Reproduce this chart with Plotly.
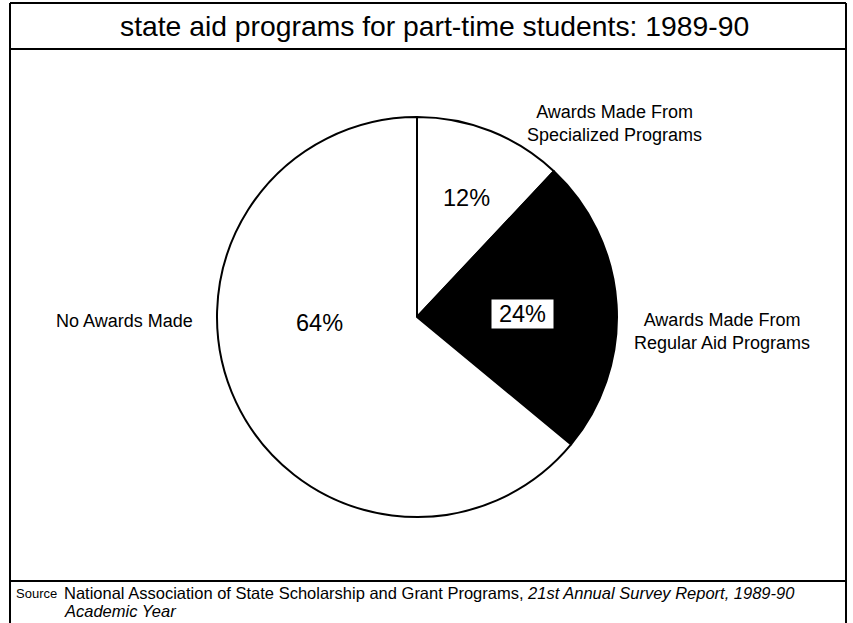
import plotly.graph_objects as go

# Share of part-time students by type of state aid award, 1989-90
categories = ["Awards Made From<br>Specialized Programs",
              "Awards Made From<br>Regular Aid Programs",
              "No Awards Made"]
shares = [12, 24, 64]
slice_colors = ["white", "black", "white"]

title_text = "state aid programs for part-time students: 1989-90"
source_label = "Source"
source_lines = ["National Association of State Scholarship and Grant Programs, "
                "<i>21st Annual Survey Report, 1989-90</i>",
                "<i>Academic Year</i>"]

W, H = 853, 623
FONT = "Liberation Sans, Arial, Helvetica, sans-serif"


def px(x):
    return x / W


def py(y):
    return 1 - y / H


fig = go.Figure()
fig.add_trace(go.Pie(
    labels=categories,
    values=shares,
    sort=False,
    direction="clockwise",
    rotation=0,
    marker=dict(colors=slice_colors, line=dict(color="black", width=2)),
    textinfo="none",
    hoverinfo="label+percent",
    showlegend=False,
    domain=dict(x=[px(217), px(617)], y=[py(517), py(117)]),
))

label_font = dict(size=18, color="black", family=FONT)
pct_font = dict(size=23.5, color="black", family=FONT)

annotations = [
    # title
    dict(x=px(434), y=py(26), text=title_text, showarrow=False,
         font=dict(size=28.3, color="black", family=FONT),
         xanchor="center", yanchor="middle"),
    # outside category labels
    dict(x=px(614), y=py(124), text=categories[0], showarrow=False,
         font=label_font, align="center", xanchor="center", yanchor="middle"),
    dict(x=px(722), y=py(331), text=categories[1], showarrow=False,
         font=label_font, align="center", xanchor="center", yanchor="middle"),
    dict(x=px(124), y=py(321), text=categories[2], showarrow=False,
         font=label_font, align="center", xanchor="center", yanchor="middle"),
    # percentage labels
    dict(x=px(467), y=py(198), text=f"{shares[0]}%", showarrow=False,
         font=pct_font, xanchor="center", yanchor="middle"),
    dict(x=px(522), y=py(314), text=f"{shares[1]}%", showarrow=False,
         font=pct_font, bgcolor="white", borderpad=0, width=61, height=28,
         xanchor="center", yanchor="middle"),
    dict(x=px(319), y=py(323), text=f"{shares[2]}%", showarrow=False,
         font=pct_font, xanchor="center", yanchor="middle"),
    # source note
    dict(x=px(14), y=py(593), text=source_label, showarrow=False,
         font=dict(size=13, color="black", family=FONT),
         xanchor="left", yanchor="middle"),
    dict(x=px(62), y=py(593), text=source_lines[0], showarrow=False,
         font=dict(size=16.5, color="black", family=FONT), align="left",
         xanchor="left", yanchor="middle"),
    dict(x=px(62), y=py(611), text=source_lines[1], showarrow=False,
         font=dict(size=16.5, color="black", family=FONT), align="left",
         xanchor="left", yanchor="middle"),
]

line = dict(color="black", width=2)
shapes = [
    # outer frame
    dict(type="line", xref="paper", yref="paper",
         x0=px(10), x1=px(10), y0=py(3), y1=py(623), line=line),
    dict(type="line", xref="paper", yref="paper",
         x0=px(846), x1=px(846), y0=py(3), y1=py(623), line=line),
    dict(type="line", xref="paper", yref="paper",
         x0=px(10), x1=px(846), y0=py(3), y1=py(3), line=line),
    # title box bottom
    dict(type="line", xref="paper", yref="paper",
         x0=px(10), x1=px(846), y0=py(49), y1=py(49), line=line),
    # source separator
    dict(type="line", xref="paper", yref="paper",
         x0=px(10), x1=px(846), y0=py(581), y1=py(581), line=line),
]

fig.update_layout(
    width=W, height=H,
    margin=dict(l=0, r=0, t=0, b=0),
    paper_bgcolor="white",
    plot_bgcolor="white",
    annotations=annotations,
    shapes=shapes,
)

fig.write_html("out.html")
